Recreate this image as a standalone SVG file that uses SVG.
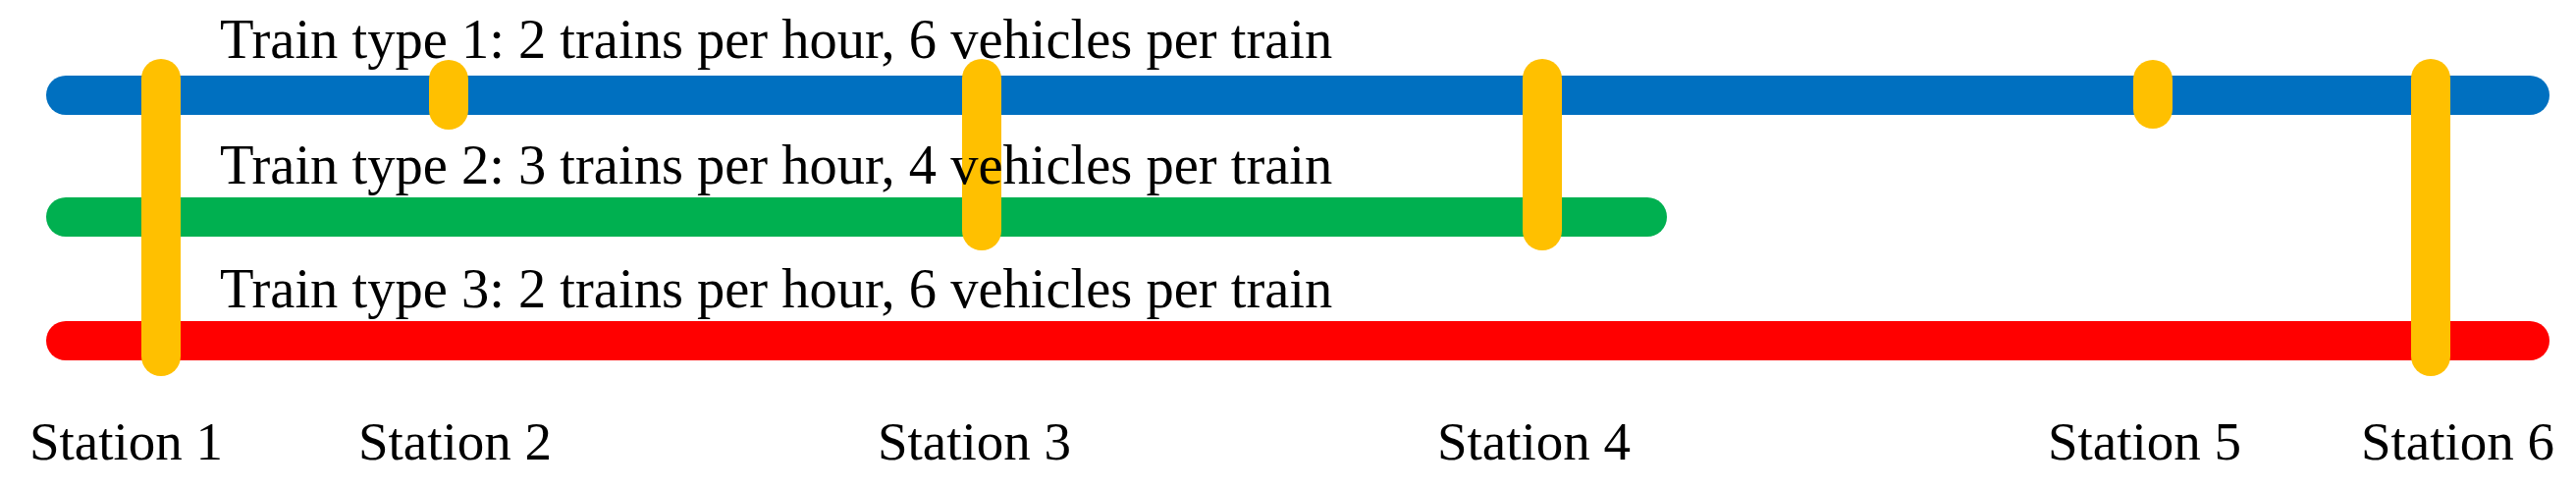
<svg xmlns="http://www.w3.org/2000/svg" width="2624" height="498" viewBox="0 0 2624 498">
  <style>
    .route { stroke-width: 40; stroke-linecap: round; fill: none; }
    .blue { stroke: #0070C0; }
    .green { stroke: #00B050; }
    .red { stroke: #FF0000; }
    .bar { stroke: #FFC000; stroke-width: 40; stroke-linecap: round; fill: none; }
    .lbl { font-family: "Liberation Serif", "Times New Roman", serif; font-size: 56.5px; fill: #000; }
    .st { font-family: "Liberation Serif", "Times New Roman", serif; font-size: 55px; fill: #000; }
  </style>
  <rect width="2624" height="498" fill="#ffffff"/>
  <g id="routes">
    <line class="route blue" x1="67" y1="97" x2="2577" y2="97"/>
    <line class="route green" x1="67" y1="221" x2="1678" y2="221"/>
    <line class="route red" x1="67" y1="347" x2="2577" y2="347"/>
  </g>
  <g id="station1">
    <line class="bar" x1="164" y1="80" x2="164" y2="363"/>
    <text class="st" x="30" y="468">Station 1</text>
  </g>
  <g id="station2">
    <line class="bar" x1="457" y1="81" x2="457" y2="112"/>
    <text class="st" x="365" y="468">Station 2</text>
  </g>
  <g id="station3">
    <line class="bar" x1="1000" y1="80" x2="1000" y2="235"/>
    <text class="st" x="894" y="468">Station 3</text>
  </g>
  <g id="station4">
    <line class="bar" x1="1571" y1="80" x2="1571" y2="235"/>
    <text class="st" x="1464" y="468">Station 4</text>
  </g>
  <g id="station5">
    <line class="bar" x1="2193" y1="81" x2="2193" y2="111"/>
    <text class="st" x="2086" y="468">Station 5</text>
  </g>
  <g id="station6">
    <line class="bar" x1="2476" y1="80" x2="2476" y2="363"/>
    <text class="st" x="2405" y="468">Station 6</text>
  </g>
  <g id="route-labels">
    <text class="lbl" x="224" y="59">Train type 1: 2 trains per hour, 6 vehicles per train</text>
    <text class="lbl" x="224" y="187">Train type 2: 3 trains per hour, 4 vehicles per train</text>
    <text class="lbl" x="224" y="313">Train type 3: 2 trains per hour, 6 vehicles per train</text>
  </g>
</svg>
